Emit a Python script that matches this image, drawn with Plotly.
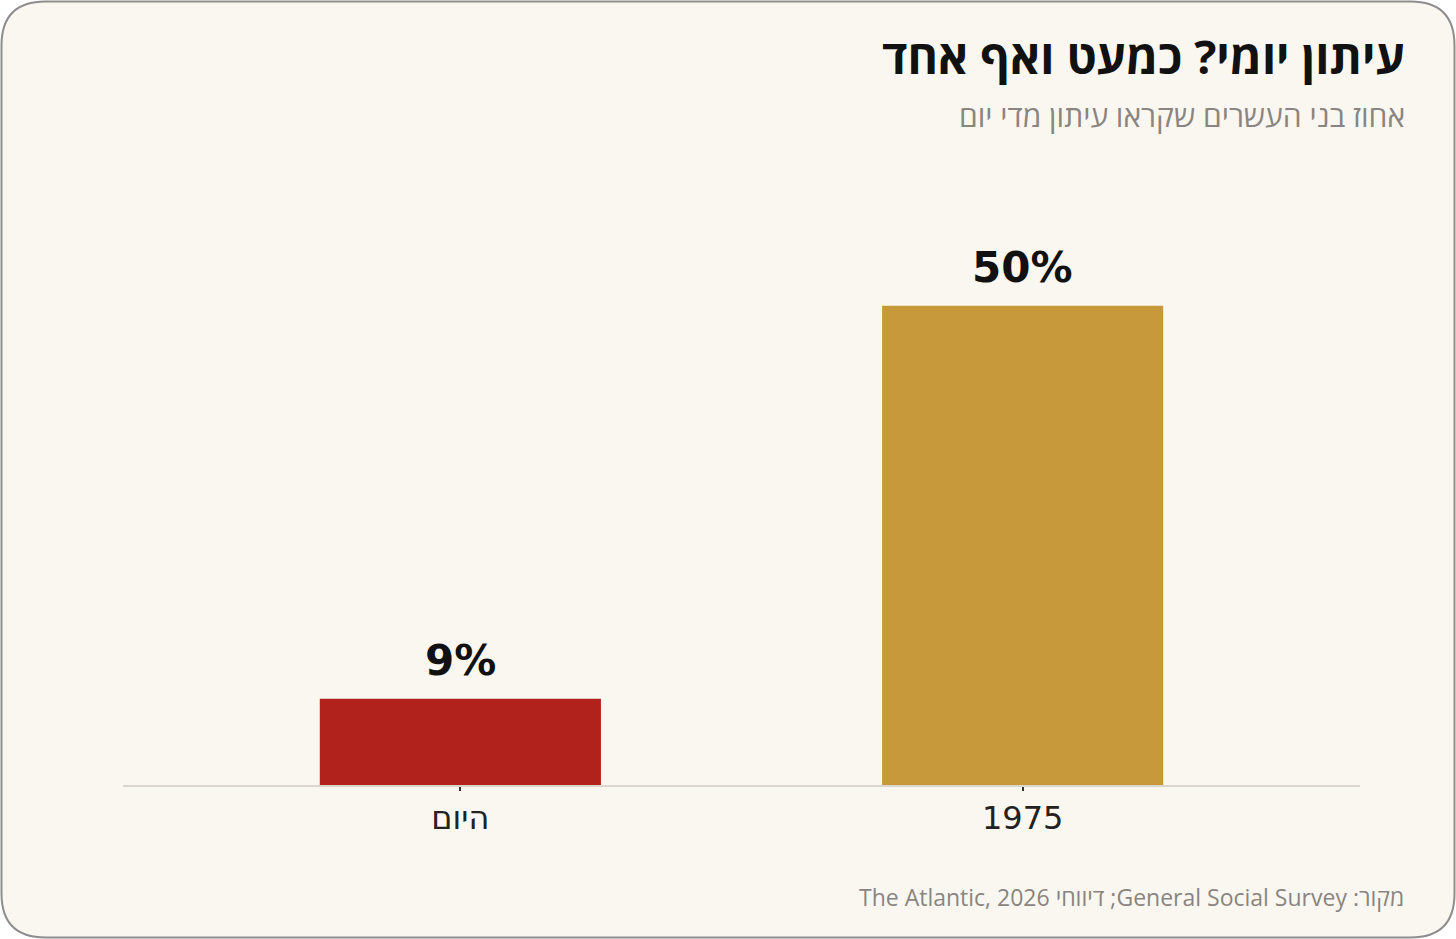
import plotly.graph_objects as go

categories = ["היום", "1975"]
values = [9, 50]
labels = ["9%", "50%"]
colors = ["#B2221D", "#C8993A"]

title = "עיתון יומי? כמעט ואף אחד"
subtitle = "אחוז בני העשרים שקראו עיתון מדי יום"
source = "מקור: General Social Survey; דיווחי The Atlantic, 2026"

W, H = 1456, 939
ML, MR, MT, MB = 123, 96, 210, 154
PW, PH = W - ML - MR, H - MT - MB


def px(x):
    return (x - ML) / PW


def py(y):
    return (H - MB - y) / PH


fig = go.Figure(
    go.Bar(
        x=categories,
        y=values,
        cliponaxis=False,
        marker=dict(color=colors, line=dict(width=0)),
        width=0.5,
        hoverinfo="skip",
    )
)

# rounded frame
x0, x1, y0, y1, r = 1.5, 1454.5, 1.5, 937.5, 44
path = (
    f"M {px(x0 + r)} {py(y0)} L {px(x1 - r)} {py(y0)} "
    f"Q {px(x1)} {py(y0)} {px(x1)} {py(y0 + r)} "
    f"L {px(x1)} {py(y1 - r)} Q {px(x1)} {py(y1)} {px(x1 - r)} {py(y1)} "
    f"L {px(x0 + r)} {py(y1)} Q {px(x0)} {py(y1)} {px(x0)} {py(y1 - r)} "
    f"L {px(x0)} {py(y0 + r)} Q {px(x0)} {py(y0)} {px(x0 + r)} {py(y0)} Z"
)

annotations = [
    dict(
        x=i,
        y=v,
        xref="x",
        yref="y",
        text="<b>" + t + "</b>",
        showarrow=False,
        yanchor="middle",
        xanchor="center",
        yshift=38,
        font=dict(family="DejaVu Sans", size=42, color="#111111"),
    )
    for i, (v, t) in enumerate(zip(values, labels))
]

annotations += [
    dict(
        text="<b>" + title + "</b>",
        xref="paper",
        yref="paper",
        x=px(1407),
        y=py(56),
        xanchor="right",
        yanchor="middle",
        showarrow=False,
        font=dict(family="Open Sans", size=46.5, color="#111111"),
    ),
    dict(
        text=subtitle,
        xref="paper",
        yref="paper",
        x=px(1407),
        y=py(116),
        xanchor="right",
        yanchor="middle",
        showarrow=False,
        font=dict(family="Open Sans", size=30, color="#8A8580"),
    ),
    dict(
        text="\u202B" + source + "\u202C",
        xref="paper",
        yref="paper",
        x=px(1406),
        y=py(897),
        xanchor="right",
        yanchor="middle",
        showarrow=False,
        font=dict(family="Open Sans", size=23, color="#8A8580"),
    ),
]

fig.update_layout(
    width=W,
    height=H,
    margin=dict(l=ML, r=MR, t=MT, b=MB),
    paper_bgcolor="#FFFFFF",
    plot_bgcolor="rgba(0,0,0,0)",
    showlegend=False,
    shapes=[
        dict(
            type="path",
            path=path,
            xref="paper",
            yref="paper",
            fillcolor="#FAF7F0",
            line=dict(color="#8E8E8E", width=2),
            layer="below",
        )
    ],
    xaxis=dict(
        type="category",
        range=[-0.6, 1.6],
        showline=True,
        linecolor="#DCD6CE",
        linewidth=1.5,
        ticks="outside",
        ticklen=4,
        tickwidth=1.5,
        tickcolor="#333333",
        tickfont=dict(family="DejaVu Sans", size=32, color="#222222"),
        showgrid=False,
        zeroline=False,
        fixedrange=True,
    ),
    yaxis=dict(
        range=[0, 60],
        visible=False,
        showgrid=False,
        zeroline=False,
        fixedrange=True,
    ),
    annotations=annotations,
)

fig.write_html(
    "out.html",
    config={"displayModeBar": False},
    post_script="document.body.style.margin='0';document.body.style.overflow='hidden';",
)
